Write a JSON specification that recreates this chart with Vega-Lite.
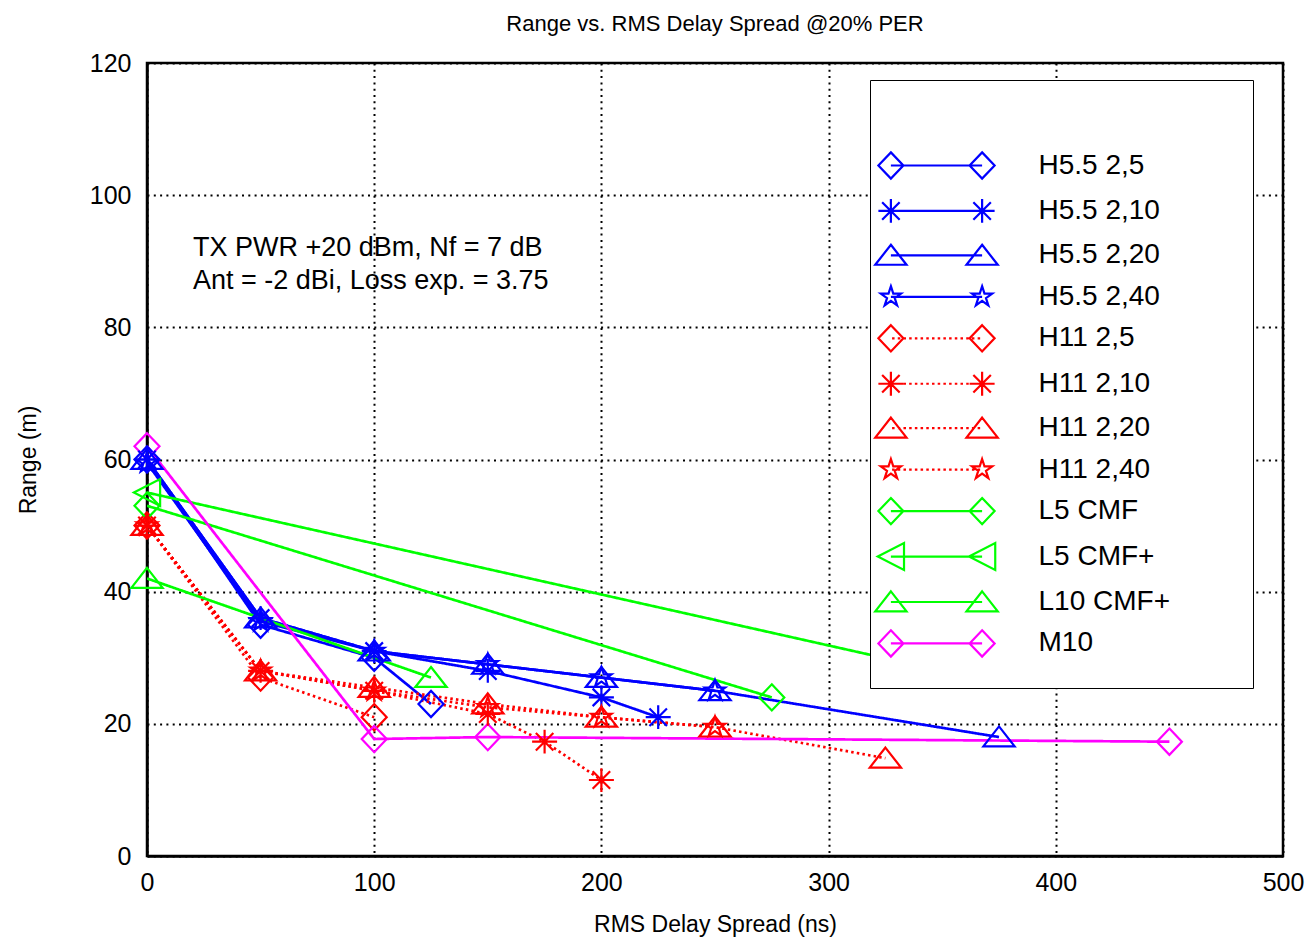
{
  "$schema": "https://vega.github.io/schema/vega-lite/v6.json",
  "width": 1136,
  "height": 793,
  "autosize": {"type": "none"},
  "padding": {"left": 147, "top": 63, "right": 30, "bottom": 88},
  "background": "white",
  "title": {"text": "Range vs. RMS Delay Spread @20% PER", "font": "Liberation Sans", "fontSize": 22, "fontWeight": "normal", "color": "black", "anchor": "middle", "offset": 15},
  "config": {
    "font": "Liberation Sans",
    "view": {"stroke": "black", "strokeWidth": 2.5},
    "axis": {"grid": true, "gridColor": "black", "gridDash": [2, 4.3], "gridWidth": 2, "gridOpacity": 1, "domainColor": "black", "domainWidth": 2.5, "ticks": false, "labelFont": "Liberation Sans", "labelFontSize": 25, "labelColor": "black", "labelFlush": false, "labelOverlap": false, "titleFont": "Liberation Sans", "titleFontSize": 23, "titleFontWeight": "normal", "titleColor": "black"}
  },
  "datasets": {
    "curves": [
      {"series": "H5.5 2,5", "x": 0, "y": 60}, {"series": "H5.5 2,5", "x": 50, "y": 35}, {"series": "H5.5 2,5", "x": 100, "y": 30}, {"series": "H5.5 2,5", "x": 125, "y": 23},
      {"series": "H5.5 2,10", "x": 0, "y": 60}, {"series": "H5.5 2,10", "x": 50, "y": 36}, {"series": "H5.5 2,10", "x": 100, "y": 31}, {"series": "H5.5 2,10", "x": 150, "y": 28}, {"series": "H5.5 2,10", "x": 200, "y": 24}, {"series": "H5.5 2,10", "x": 225, "y": 21},
      {"series": "H5.5 2,20", "x": 0, "y": 60}, {"series": "H5.5 2,20", "x": 50, "y": 36}, {"series": "H5.5 2,20", "x": 100, "y": 31}, {"series": "H5.5 2,20", "x": 150, "y": 29}, {"series": "H5.5 2,20", "x": 200, "y": 27}, {"series": "H5.5 2,20", "x": 250, "y": 25}, {"series": "H5.5 2,20", "x": 375, "y": 18},
      {"series": "H5.5 2,40", "x": 0, "y": 59.5}, {"series": "H5.5 2,40", "x": 50, "y": 35.5}, {"series": "H5.5 2,40", "x": 100, "y": 31}, {"series": "H5.5 2,40", "x": 150, "y": 29}, {"series": "H5.5 2,40", "x": 200, "y": 27}, {"series": "H5.5 2,40", "x": 250, "y": 25},
      {"series": "H11 2,5", "x": 0, "y": 50}, {"series": "H11 2,5", "x": 50, "y": 27}, {"series": "H11 2,5", "x": 100, "y": 21},
      {"series": "H11 2,10", "x": 0, "y": 50}, {"series": "H11 2,10", "x": 50, "y": 28}, {"series": "H11 2,10", "x": 100, "y": 25}, {"series": "H11 2,10", "x": 150, "y": 21.5}, {"series": "H11 2,10", "x": 175, "y": 17.3}, {"series": "H11 2,10", "x": 200, "y": 11.5},
      {"series": "H11 2,20", "x": 0, "y": 50}, {"series": "H11 2,20", "x": 50, "y": 28}, {"series": "H11 2,20", "x": 100, "y": 25.5}, {"series": "H11 2,20", "x": 150, "y": 23}, {"series": "H11 2,20", "x": 200, "y": 21}, {"series": "H11 2,20", "x": 250, "y": 19.5}, {"series": "H11 2,20", "x": 325, "y": 14.8},
      {"series": "H11 2,40", "x": 0, "y": 50}, {"series": "H11 2,40", "x": 50, "y": 28}, {"series": "H11 2,40", "x": 100, "y": 25}, {"series": "H11 2,40", "x": 150, "y": 22.5}, {"series": "H11 2,40", "x": 200, "y": 21}, {"series": "H11 2,40", "x": 250, "y": 19.5},
      {"series": "L5 CMF", "x": 0, "y": 53}, {"series": "L5 CMF", "x": 275, "y": 24},
      {"series": "L5 CMF+", "x": 0, "y": 55}, {"series": "L5 CMF+", "x": 350, "y": 28},
      {"series": "L10 CMF+", "x": 0, "y": 42}, {"series": "L10 CMF+", "x": 125, "y": 27},
      {"series": "M10", "x": 0, "y": 62}, {"series": "M10", "x": 100, "y": 17.7}, {"series": "M10", "x": 150, "y": 18}, {"series": "M10", "x": 450, "y": 17.3}
    ],
    "note": [
      {"x": 20.2, "y": 90.8, "label": "TX PWR +20 dBm, Nf = 7 dB"},
      {"x": 20.2, "y": 85.8, "label": "Ant = -2 dBi, Loss exp. = 3.75"}
    ]
  },
  "data": {"name": "curves"},
  "encoding": {
    "x": {"field": "x", "type": "quantitative", "title": "RMS Delay Spread (ns)", "scale": {"domain": [0, 500], "nice": false, "zero": false}, "axis": {"values": [0, 100, 200, 300, 400, 500], "labelPadding": 14, "titlePadding": 18}},
    "y": {"field": "y", "type": "quantitative", "title": "Range (m)", "scale": {"domain": [0, 120], "nice": false, "zero": false}, "axis": {"values": [0, 20, 40, 60, 80, 100, 120], "labelPadding": 16, "titlePadding": 49}}
  },
  "layer": [
    {
      "mark": {"type": "line", "strokeWidth": 2.7, "clip": true},
      "encoding": {
        "stroke": {"field": "series", "type": "nominal", "legend": null, "scale": {"domain": ["M10", "L10 CMF+", "L5 CMF+", "L5 CMF", "H11 2,40", "H11 2,20", "H11 2,10", "H11 2,5", "H5.5 2,40", "H5.5 2,20", "H5.5 2,10", "H5.5 2,5"], "range": ["#ff00ff", "#00ff00", "#00ff00", "#00ff00", "#ff0000", "#ff0000", "#ff0000", "#ff0000", "#0000ff", "#0000ff", "#0000ff", "#0000ff"]}},
        "strokeDash": {"field": "series", "type": "nominal", "legend": null, "scale": {"domain": ["M10", "L10 CMF+", "L5 CMF+", "L5 CMF", "H11 2,40", "H11 2,20", "H11 2,10", "H11 2,5", "H5.5 2,40", "H5.5 2,20", "H5.5 2,10", "H5.5 2,5"], "range": [[1, 0], [1, 0], [1, 0], [1, 0], [2.5, 3.2], [2.5, 3.2], [2.5, 3.2], [2.5, 3.2], [1, 0], [1, 0], [1, 0], [1, 0]]}}
      }
    },
    {
      "transform": [{"filter": {"field": "series", "oneOf": ["H5.5 2,5", "H11 2,5", "L5 CMF", "M10"]}}],
      "mark": {"type": "point", "filled": false, "size": 625, "strokeWidth": 2.2, "opacity": 1, "shape": "M0,-1.05L1,0L0,1.05L-1,0Z"},
      "encoding": {"stroke": {"field": "series", "type": "nominal", "legend": null}}
    },
    {
      "transform": [{"filter": {"field": "series", "oneOf": ["H5.5 2,10", "H11 2,10"]}}],
      "mark": {"type": "point", "filled": false, "size": 625, "strokeWidth": 2.2, "opacity": 1, "shape": "M-1,0L1,0M0,-0.95L0,0.95M-0.7,-0.7L0.7,0.7M-0.7,0.7L0.7,-0.7"},
      "encoding": {"stroke": {"field": "series", "type": "nominal", "legend": null}}
    },
    {
      "transform": [{"filter": {"field": "series", "oneOf": ["H5.5 2,20", "H11 2,20", "L10 CMF+"]}}],
      "mark": {"type": "point", "filled": false, "size": 625, "strokeWidth": 2.2, "opacity": 1, "shape": "M0,-0.85L1.25,0.75L-1.25,0.75Z"},
      "encoding": {"stroke": {"field": "series", "type": "nominal", "legend": null}}
    },
    {
      "transform": [{"filter": {"field": "series", "oneOf": ["H5.5 2,40", "H11 2,40"]}}],
      "mark": {"type": "point", "filled": false, "size": 625, "strokeWidth": 2.2, "opacity": 1, "shape": "M0,-0.85L0.191,-0.263L0.808,-0.263L0.309,0.1L0.5,0.688L0,0.325L-0.5,0.688L-0.309,0.1L-0.808,-0.263L-0.191,-0.263Z"},
      "encoding": {"stroke": {"field": "series", "type": "nominal", "legend": null}}
    },
    {
      "transform": [{"filter": {"field": "series", "oneOf": ["L5 CMF+"]}}],
      "mark": {"type": "point", "filled": false, "size": 625, "strokeWidth": 2.2, "opacity": 1, "shape": "M-1.05,0L1.05,-1.08L1.05,1.08Z"},
      "encoding": {"stroke": {"field": "series", "type": "nominal", "legend": null}}
    },
    {
      "data": {"name": "note"},
      "mark": {"type": "text", "align": "left", "baseline": "alphabetic", "font": "Liberation Sans", "fontSize": 27, "fill": "black"},
      "encoding": {"text": {"field": "label", "type": "nominal"}}
    },
    {
      "transform": [{"filter": "datum.x < -1000"}],
      "mark": {"type": "point", "filled": false, "opacity": 1},
      "encoding": {
        "color": {
          "field": "series", "type": "nominal",
          "scale": {"domain": ["H5.5 2,5", "H5.5 2,10", "H5.5 2,20", "H5.5 2,40", "H11 2,5", "H11 2,10", "H11 2,20", "H11 2,40", "L5 CMF", "L5 CMF+", "L10 CMF+", "M10"], "range": ["#0000ff", "#0000ff", "#0000ff", "#0000ff", "#ff0000", "#ff0000", "#ff0000", "#ff0000", "#00ff00", "#00ff00", "#00ff00", "#ff00ff"]},
          "legend": {"orient": "none", "legendX": 723, "legendY": 17, "title": " ", "titleFontSize": 10, "titlePadding": 42.5, "padding": 6, "rowPadding": 0.45, "symbolSize": 2680, "symbolOffset": 33.5, "symbolStrokeWidth": 2.2, "symbolOpacity": 1, "labelOffset": 75, "labelFont": "Liberation Sans", "labelFontSize": 28, "labelColor": "black", "labelLimit": 400, "strokeColor": "black", "fillColor": "white"}
        },
        "shape": {
          "field": "series", "type": "nominal",
          "scale": {
            "domain": ["H5.5 2,5", "H5.5 2,10", "H5.5 2,20", "H5.5 2,40", "H11 2,5", "H11 2,10", "H11 2,20", "H11 2,40", "L5 CMF", "L5 CMF+", "L10 CMF+", "M10"],
            "range": [
              "M-1.762,-0.507L-1.279,0L-1.762,0.507L-2.245,0ZM1.762,-0.507L2.245,0L1.762,0.507L1.279,0ZM-1.762,0L1.762,0M11.8,0",
              "M-2.245,0L-1.279,0M-1.762,-0.459L-1.762,0.459M-2.1,-0.338L-1.424,0.338M-2.1,0.338L-1.424,-0.338M1.279,0L2.245,0M1.762,-0.459L1.762,0.459M1.424,-0.338L2.1,0.338M1.424,0.338L2.1,-0.338M-1.762,0L1.762,0M11.8,0",
              "M-1.762,-0.411L-1.158,0.362L-2.366,0.362ZM1.762,-0.411L2.366,0.362L1.158,0.362ZM-1.762,0L1.762,0M11.8,0",
              "M-1.762,-0.411L-1.67,-0.127L-1.372,-0.127L-1.613,0.048L-1.521,0.332L-1.762,0.157L-2.003,0.332L-1.911,0.048L-2.152,-0.127L-1.854,-0.127ZM1.762,-0.411L1.854,-0.127L2.152,-0.127L1.911,0.048L2.003,0.332L1.762,0.157L1.521,0.332L1.613,0.048L1.372,-0.127L1.67,-0.127ZM-1.762,0L1.762,0M11.8,0",
              "M-1.762,-0.507L-1.279,0L-1.762,0.507L-2.245,0ZM1.762,-0.507L2.245,0L1.762,0.507L1.279,0ZM-1.717,0L-1.62,0M-1.497,0L-1.4,0M-1.276,0L-1.179,0M-1.056,0L-0.959,0M-0.836,0L-0.739,0M-0.615,0L-0.518,0M-0.395,0L-0.298,0M-0.174,0L-0.077,0M0.046,0L0.143,0M0.266,0L0.363,0M0.487,0L0.584,0M0.707,0L0.804,0M0.927,0L1.024,0M1.148,0L1.245,0M1.368,0L1.465,0M1.589,0L1.686,0M11.8,0",
              "M-2.245,0L-1.279,0M-1.762,-0.459L-1.762,0.459M-2.1,-0.338L-1.424,0.338M-2.1,0.338L-1.424,-0.338M1.279,0L2.245,0M1.762,-0.459L1.762,0.459M1.424,-0.338L2.1,0.338M1.424,0.338L2.1,-0.338M-1.717,0L-1.62,0M-1.497,0L-1.4,0M-1.276,0L-1.179,0M-1.056,0L-0.959,0M-0.836,0L-0.739,0M-0.615,0L-0.518,0M-0.395,0L-0.298,0M-0.174,0L-0.077,0M0.046,0L0.143,0M0.266,0L0.363,0M0.487,0L0.584,0M0.707,0L0.804,0M0.927,0L1.024,0M1.148,0L1.245,0M1.368,0L1.465,0M1.589,0L1.686,0M11.8,0",
              "M-1.762,-0.411L-1.158,0.362L-2.366,0.362ZM1.762,-0.411L2.366,0.362L1.158,0.362ZM-1.717,0L-1.62,0M-1.497,0L-1.4,0M-1.276,0L-1.179,0M-1.056,0L-0.959,0M-0.836,0L-0.739,0M-0.615,0L-0.518,0M-0.395,0L-0.298,0M-0.174,0L-0.077,0M0.046,0L0.143,0M0.266,0L0.363,0M0.487,0L0.584,0M0.707,0L0.804,0M0.927,0L1.024,0M1.148,0L1.245,0M1.368,0L1.465,0M1.589,0L1.686,0M11.8,0",
              "M-1.762,-0.411L-1.67,-0.127L-1.372,-0.127L-1.613,0.048L-1.521,0.332L-1.762,0.157L-2.003,0.332L-1.911,0.048L-2.152,-0.127L-1.854,-0.127ZM1.762,-0.411L1.854,-0.127L2.152,-0.127L1.911,0.048L2.003,0.332L1.762,0.157L1.521,0.332L1.613,0.048L1.372,-0.127L1.67,-0.127ZM-1.717,0L-1.62,0M-1.497,0L-1.4,0M-1.276,0L-1.179,0M-1.056,0L-0.959,0M-0.836,0L-0.739,0M-0.615,0L-0.518,0M-0.395,0L-0.298,0M-0.174,0L-0.077,0M0.046,0L0.143,0M0.266,0L0.363,0M0.487,0L0.584,0M0.707,0L0.804,0M0.927,0L1.024,0M1.148,0L1.245,0M1.368,0L1.465,0M1.589,0L1.686,0M11.8,0",
              "M-1.762,-0.507L-1.279,0L-1.762,0.507L-2.245,0ZM1.762,-0.507L2.245,0L1.762,0.507L1.279,0ZM-1.762,0L1.762,0M11.8,0",
              "M-2.269,0L-1.255,-0.522L-1.255,0.522ZM1.255,0L2.269,-0.522L2.269,0.522ZM-1.762,0L1.762,0M11.8,0",
              "M-1.762,-0.411L-1.158,0.362L-2.366,0.362ZM1.762,-0.411L2.366,0.362L1.158,0.362ZM-1.762,0L1.762,0M11.8,0",
              "M-1.762,-0.507L-1.279,0L-1.762,0.507L-2.245,0ZM1.762,-0.507L2.245,0L1.762,0.507L1.279,0ZM-1.762,0L1.762,0M11.8,0M0,1.3"
            ]
          }
        }
      }
    }
  ]
}
